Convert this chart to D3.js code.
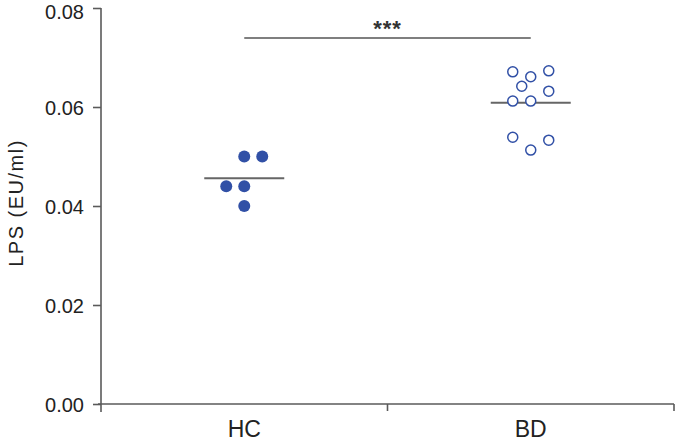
<!DOCTYPE html>
<html>
<head>
<meta charset="utf-8">
<script src="https://cdnjs.cloudflare.com/ajax/libs/d3/7.8.5/d3.min.js"></script>
<style>
body { margin: 0; background: #fff; font-family: "Liberation Sans", Arial, sans-serif; }
.axis path, .axis line { stroke: #5a5a5a; stroke-width: 1.6; }
.axis text { font-size: 20px; fill: #222; font-family: "Liberation Sans", Arial, sans-serif; }
</style>
</head>
<body>
<svg id="chart" width="687" height="444"></svg>
<script>
// groups and tick labels
var categories = ["HC", "BD"];
var yTicks = [0, 0.02, 0.04, 0.06, 0.08];

// LPS values (EU/ml) and their column within the scatter
var hcValues = [0.050, 0.050, 0.044, 0.044, 0.040];
var hcCols   = [0, 1, -1, 0, 0];
var bdValues = [0.0671, 0.0661, 0.0673, 0.0642, 0.0632, 0.0612, 0.0612, 0.0539, 0.0513, 0.0533];
var bdCols   = [-1, 0, 1, -0.5, 1, -1, 0, -1, 0, 1];
var significance = "***";

var svg = d3.select('#chart');
var margin = {top: 8, right: 13, bottom: 40, left: 101};
var width = 687 - margin.left - margin.right;
var height = 444 - margin.top - margin.bottom;

var g = svg.append('g')
    .attr('transform', 'translate(' + margin.left + ',' + margin.top + ')');

var x = d3.scaleBand().domain(categories).range([0, width]);
var y = d3.scaleLinear().domain([0, 0.08]).range([height, 0]);
var jitter = d3.scaleLinear().domain([-1, 1]).range([-18, 18]);
var blue = '#3150a6';

// y axis, runs a little below zero like the original
var yAxis = g.append('g').attr('class', 'axis')
    .call(d3.axisLeft(y).tickValues(yTicks).tickFormat(d3.format('.2f')).tickSize(8).tickPadding(9));
yAxis.select('.domain').attr('d', 'M0,' + y(0.08) + 'V' + (height + 8));
yAxis.selectAll('text').attr('dy', function(d){ return d === 0.08 ? '0.5em' : '0.36em'; });

// x axis with ticks at group boundaries
var xAxis = g.append('g').attr('class', 'axis')
    .attr('transform', 'translate(0,' + height + ')');
xAxis.append('path').attr('d', 'M-3,0H' + width).attr('fill', 'none');
xAxis.selectAll('.xt').data([x('BD'), width]).enter().append('line')
    .attr('class', 'xt').attr('x1', function(d){ return d; }).attr('x2', function(d){ return d; })
    .attr('y1', 0).attr('y2', 7);
xAxis.selectAll('.xl').data(categories).enter().append('text')
    .attr('class', 'xl')
    .attr('x', function(d){ return x(d) + x.bandwidth() / 2; })
    .attr('y', 33)
    .attr('text-anchor', 'middle')
    .style('font-size', '23px')
    .text(function(d){ return d; });

// y label
svg.append('text')
    .attr('transform', 'translate(23,203) rotate(-90)')
    .attr('text-anchor', 'middle')
    .style('font-size', '20px')
    .style('letter-spacing', '1.5px')
    .style('fill', '#222')
    .text('LPS (EU/ml)');

var groups = [
    {name: 'HC', values: hcValues, cols: hcCols, filled: true},
    {name: 'BD', values: bdValues, cols: bdCols, filled: false}
];

groups.forEach(function(grp){
    var cx = x(grp.name) + x.bandwidth() / 2;
    var pts = grp.values.map(function(v, i){ return {v: v, c: grp.cols[i]}; });
    var mean = d3.mean(grp.values);
    g.append('line')
        .attr('x1', cx - 40).attr('x2', cx + 40)
        .attr('y1', y(mean)).attr('y2', y(mean))
        .attr('stroke', '#666').attr('stroke-width', 2);
    g.selectAll('.pt-' + grp.name).data(pts).enter().append('circle')
        .attr('class', 'pt-' + grp.name)
        .attr('cx', function(d){ return cx + jitter(d.c); })
        .attr('cy', function(d){ return y(d.v); })
        .attr('r', grp.filled ? 6 : 5)
        .attr('fill', grp.filled ? blue : '#fff')
        .attr('stroke', blue)
        .attr('stroke-width', grp.filled ? 0 : 1.5);
});

// significance bar
var c1 = x('HC') + x.bandwidth() / 2, c2 = x('BD') + x.bandwidth() / 2;
g.append('line')
    .attr('x1', c1).attr('x2', c2)
    .attr('y1', 30).attr('y2', 30)
    .attr('stroke', '#555').attr('stroke-width', 1.5);
g.append('text')
    .attr('x', (c1 + c2) / 2).attr('y', 28)
    .attr('text-anchor', 'middle')
    .style('font-size', '22px').style('font-weight', 'bold').style('fill', '#333')
    .style('letter-spacing', '1px')
    .text(significance);
</script>
</body>
</html>
